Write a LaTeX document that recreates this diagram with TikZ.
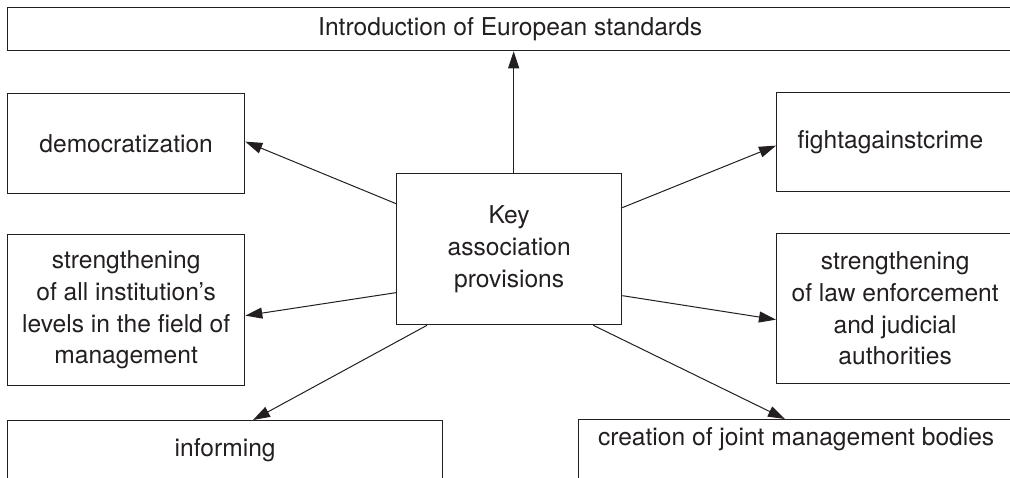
\documentclass[tikz,border=0pt]{standalone}
\usepackage{fontspec}
\setmainfont{TeX Gyre Heros}
\usetikzlibrary{arrows.meta,calc}
\definecolor{dgInk}{HTML}{231F20}
\tikzset{
  blk/.style={draw=dgInk, line width=1.3pt, rectangle, inner sep=0pt, align=center, text=dgInk, font=\fontsize{24.6}{31.7}\selectfont},
  arr/.style={-{Triangle[length=17pt,width=11pt]}, line width=1pt, draw=dgInk},
}
\begin{document}
\begin{tikzpicture}[x=1pt, y=-1pt]
            \useasboundingbox (0,0) rectangle (1010,477);
            \clip (0,0) rectangle (1010,477);
            \node[blk, anchor=north west, minimum width=1005, minimum height=43] (euro) at (7,7) {Introduction of European standards};
            \node[blk, anchor=north west, minimum width=225, minimum height=151] (key) at (396,173) {Key\\association\\provisions};
            \node[blk, anchor=north west, minimum width=237, minimum height=100] (demo) at (7,93) {democratization};
            \node[blk, anchor=north west, minimum width=237, minimum height=151] (lstr) at (7,234) {strengthening\\of all institution’s\\levels in the field of\\management};
            \node[blk, anchor=north west, minimum width=435, text height=36, text depth=40] (inf) at (7,420) {informing};
            \node[blk, anchor=north west, minimum height=99, text width=235, align=left, inner xsep=21] (fight) at (776,92) {fightagainstcrime};
            \node[blk, anchor=north west, minimum width=237, minimum height=150] (rstr) at (776,233) {strengthening\\of law enforcement\\and judicial\\authorities};
            \node[blk, anchor=north west, minimum width=435, text height=26, text depth=50] (crea) at (578,419) {creation of joint management bodies};
            \coordinate (kt) at ($(key.north)+(4.5,0)$);
            \draw[arr] (kt) -- (kt |- euro.south);
            \draw[arr] ($(key.west)+(0,-45.5)$) -- ($(demo.east)+(0,-2)$);
            \draw[arr] ($(key.west)+(0,43.5)$) -- ($(lstr.east)+(0,5.5)$);
            \draw[arr] ($(key.south west)+(31,0)$) -- ($(inf.north west)+(246,0)$);
            \draw[arr] ($(key.east)+(0,-41.5)$) -- ($(fight.west)+(0,3.5)$);
            \draw[arr] ($(key.east)+(0,46.5)$) -- ($(rstr.west)+(0,11)$);
            \draw[arr] ($(key.south east)+(-29,0)$) -- ($(crea.north west)+(207,0)$);
        \end{tikzpicture}
\end{document}
